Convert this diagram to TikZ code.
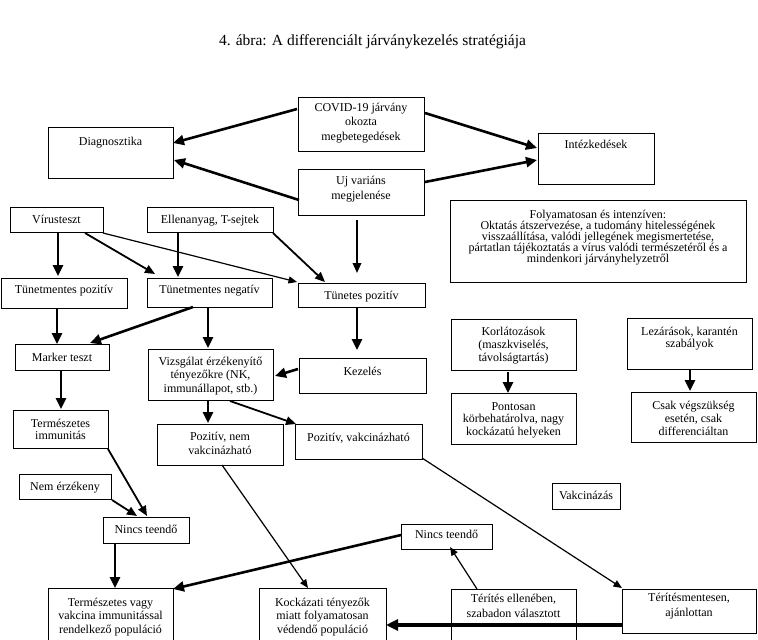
\documentclass[tikz,border=0pt]{standalone}
\usepackage{fontspec}
\setmainfont{Liberation Serif}
\usetikzlibrary{arrows.meta}
\newcommand{\tb}[5]{\parbox[c][#2pt][t]{#1pt}{\centering\fontsize{12}{#4}\selectfont\rule{0pt}{#3pt}#5\par}}
\tikzset{
  box/.style={draw, line width=0.8pt, inner sep=0pt, outer sep=0pt, anchor=north west},
  thk/.style={line width=2.6pt, -{Triangle[length=11pt,width=10pt]}},
  med/.style={line width=1.8pt, -{Triangle[length=10pt,width=8.5pt]}},
  thn/.style={line width=1.2pt, -{Triangle[length=8.5pt,width=7pt]}},
  vthk/.style={line width=3.4pt, -{Triangle[length=12pt,width=11pt]}}
}
\begin{document}
\begin{tikzpicture}[x=1pt,y=-1pt]
\useasboundingbox (0,0) rectangle (758,640);
\clip (0,0) rectangle (758,640);
\fill[white] (0,0) rectangle (758,640);
\node[anchor=base, font=\rmfamily\fontsize{15.5}{18}\selectfont] (title) at (372.5,45) {4. ábra: A differenciált járványkezelés stratégiája};

\node[box] (covid) at (298,97) {\tb{126}{54}{14}{14.5}{COVID-19 járvány\\okozta\\megbetegedések}};
\node[box] (diag) at (48,127) {\tb{125}{51}{18}{14}{Diagnosztika}};
\node[box] (ujv) at (298,169) {\tb{126}{46}{15}{15}{Uj variáns\\megjelenése}};
\node[box] (intez) at (538,133) {\tb{116}{51}{15}{14}{Intézkedések}};
\node[box] (folyam) at (450,200) {\tb{296}{82}{18}{11}{Folyamatosan és intenzíven:\\Oktatás átszervezése, a tudomány hitelességének\\visszaállítása, valódi jellegének megismertetése,\\pártatlan tájékoztatás a vírus valódi természetéről és a\\mindenkori járványhelyzetről}};
\node[box] (virus) at (10,207) {\tb{93}{25}{16}{14}{Vírusteszt}};
\node[box] (ellen) at (147,207) {\tb{126}{25}{16}{14}{Ellenanyag, T-sejtek}};
\node[box] (tmpoz) at (1,278) {\tb{126}{30}{15}{14}{Tünetmentes pozitív}};
\node[box] (tmneg) at (147,278) {\tb{125}{29}{15}{14}{Tünetmentes negatív}};
\node[box] (tpoz) at (298,283) {\tb{127}{24}{16}{14}{Tünetes pozitív}};
\node[box] (marker) at (15,344) {\tb{94}{26}{17}{14}{Marker teszt}};
\node[box] (vizsg) at (148,349) {\tb{125}{51}{16}{13.5}{Vizsgálat érzékenyítő\\tényezőkre (NK,\\immunállapot, stb.)}};
\node[box] (kezel) at (299,358) {\tb{127}{35}{17}{14}{Kezelés}};
\node[box] (termimm) at (13,410) {\tb{95}{38}{17}{12}{Természetes\\immunitás}};
\node[box] (poznem) at (157,424) {\tb{126}{41}{16}{14}{Pozitív, nem\\vakcinázható}};
\node[box] (pozvak) at (295,424) {\tb{127}{35}{17}{14}{Pozitív, vakcinázható}};
\node[box] (korl) at (451,319) {\tb{125}{51}{16}{13}{Korlátozások\\(maszkviselés,\\távolságtartás)}};
\node[box] (pontos) at (451,393) {\tb{125}{51}{17}{12.5}{Pontosan\\körbehatárolva, nagy\\kockázatú helyeken}};
\node[box] (lezar) at (627,318) {\tb{125}{51}{17}{12.5}{Lezárások, karantén\\szabályok}};
\node[box] (csak) at (631,392) {\tb{125}{50}{17}{13}{Csak végszükség\\esetén, csak\\differenciáltan}};
\node[box] (nemerz) at (19,474) {\tb{92}{25}{16}{14}{Nem érzékeny}};
\node[box] (nincsa) at (103,517) {\tb{86}{26}{16}{14}{Nincs teendő}};
\node[box] (termvagy) at (48,588) {\tb{125}{60}{18}{13.5}{Természetes vagy\\vakcina immunitással\\rendelkező populáció}};
\node[box] (kock) at (259,588) {\tb{127}{60}{18}{13.5}{Kockázati tényezők\\miatt folyamatosan\\védendő populáció}};
\node[box] (nincsb) at (401,524) {\tb{91}{25}{14}{14}{Nincs teendő}};
\node[box] (vakc) at (552,483) {\tb{68}{26}{16}{14}{Vakcinázás}};
\node[box] (terel) at (451,589) {\tb{125}{60}{13}{15}{Térítés ellenében,\\szabadon választott}};
\node[box] (termentes) at (622,589) {\tb{134}{44}{12}{15}{Térítésmentesen,\\ajánlottan}};

% connectors
\draw[thk] ([shift={(-1,12)}]covid.north west) -- ([shift={(125,16)}]diag.north west);
\draw[thk] ([shift={(1,31)}]ujv.north west) -- ([shift={(126,33)}]diag.north west);
\draw[thk] ([shift={(127,16)}]covid.north west) -- ([shift={(-1,15)}]intez.north west);
\draw[thk] ([shift={(127,13)}]ujv.north west) -- ([shift={(-1,27)}]intez.north west);
\draw[med] ([shift={(59,51)}]ujv.north west) -- ([shift={(59,-10)}]tpoz.north west);
\draw[thk] ([shift={(48,25)}]virus.north west) -- ([shift={(57,-2)}]tmpoz.north west);
\draw[med] ([shift={(75,26)}]virus.north west) -- ([shift={(8,-4)}]tmneg.north west);
\draw[thn] ([shift={(93,26)}]virus.north west) -- ([shift={(-1,-1)}]tpoz.north west);
\draw[thk] ([shift={(31,26)}]ellen.north west) -- ([shift={(31,-1)}]tmneg.north west);
\draw[med] ([shift={(126,26)}]ellen.north west) -- ([shift={(27,-1)}]tpoz.north west);
\draw[thk] ([shift={(56,30)}]tmpoz.north west) -- ([shift={(42,0)}]marker.north west);
\draw[thk] ([shift={(46,29)}]tmneg.north west) -- ([shift={(75,-1)}]marker.north west);
\draw[thk] ([shift={(61,29)}]tmneg.north west) -- ([shift={(60,-1)}]vizsg.north west);
\draw[thk] ([shift={(59,24)}]tpoz.north west) -- ([shift={(58,-8)}]kezel.north west);
\draw[thk] ([shift={(-1,11)}]kezel.north west) -- ([shift={(127,27)}]vizsg.north west);
\draw[thk] ([shift={(46,26)}]marker.north west) -- ([shift={(48,-1)}]termimm.north west);
\draw[thk] ([shift={(60,51)}]vizsg.north west) -- ([shift={(51,-1)}]poznem.north west);
\draw[med] ([shift={(82,52)}]vizsg.north west) -- ([shift={(1,0)}]pozvak.north west);
\draw[thk] ([shift={(57,53)}]korl.north west) -- ([shift={(57,0)}]pontos.north west);
\draw[thk] ([shift={(63,52)}]lezar.north west) -- ([shift={(59,-1)}]csak.north west);
\draw[med] ([shift={(95,39)}]termimm.north west) -- ([shift={(44,-1)}]nincsa.north west);
\draw[med] ([shift={(93,26)}]nemerz.north west) -- ([shift={(34,-1)}]nincsa.north west);
\draw[thk] ([shift={(12,26)}]nincsa.north west) -- ([shift={(67,0)}]termvagy.north west);
\draw[thk] ([shift={(0,11)}]nincsb.north west) -- ([shift={(125,1)}]termvagy.north west);
\draw[thn] ([shift={(65,41)}]poznem.north west) -- ([shift={(49,0)}]kock.north west);
\draw[thn] ([shift={(127,34)}]pozvak.north west) -- ([shift={(0,-1)}]termentes.north west);
\draw[thn] ([shift={(26,0)}]terel.north west) -- ([shift={(49,23)}]nincsb.north west);
\draw[vthk] ([shift={(0,36)}]termentes.north west) -- ([shift={(127,37)}]kock.north west);
\end{tikzpicture}
\end{document}
